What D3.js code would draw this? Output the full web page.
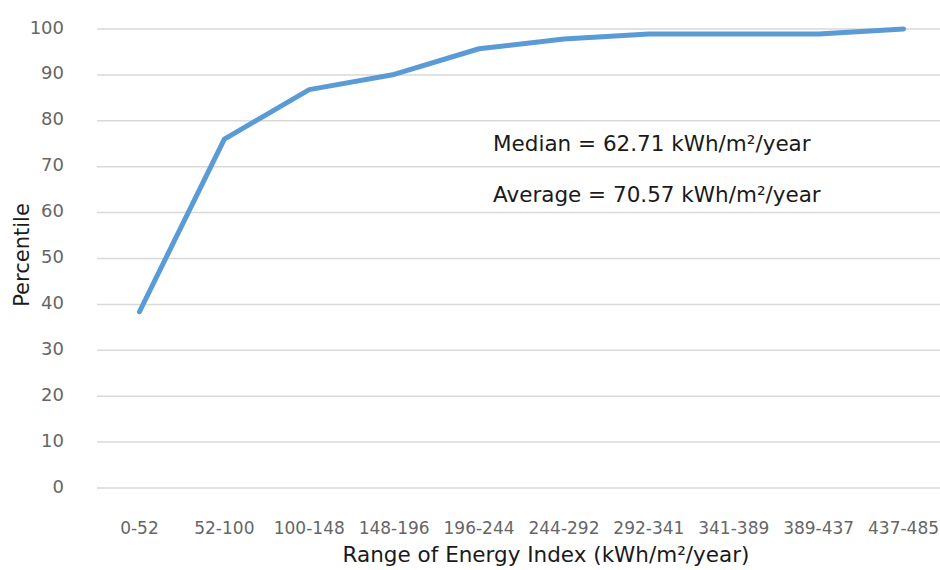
<!DOCTYPE html>
<html>
<head>
<meta charset="utf-8">
<script src="https://cdn.jsdelivr.net/npm/d3@7"></script>
<style>
  body { margin: 0; background: #fff; }
  text { font-family: "DejaVu Sans", "Liberation Sans", Arial, sans-serif; }
</style>
</head>
<body>
<svg id="chart" width="940" height="570"></svg>
<script>
// ranges on the x axis
var ranges = ["0-52", "52-100", "100-148", "148-196", "196-244",
              "244-292", "292-341", "341-389", "389-437", "437-485"];
// cumulative percentile per range
var percentile = [38.4, 76.0, 86.8, 90.1, 95.7, 97.8, 98.9, 98.9, 98.9, 100];
var yTicks = [0, 10, 20, 30, 40, 50, 60, 70, 80, 90, 100];
var notes = ["Median = 62.71 kWh/m\u00b2/year", "Average = 70.57 kWh/m\u00b2/year"];

var font = '"DejaVu Sans", "Liberation Sans", Arial, sans-serif';
var svg = d3.select('#chart');

var x = d3.scaleBand()
    .domain(ranges)
    .range([97, 946]);
var y = d3.scaleLinear()
    .domain([0, 100])
    .range([488, 29]);

// gridlines
svg.append('g')
    .selectAll('line')
    .data(yTicks)
    .enter()
    .append('line')
    .attr('x1', 97)
    .attr('x2', 940)
    .attr('y1', d => y(d))
    .attr('y2', d => y(d))
    .attr('stroke', '#d9d9d9')
    .attr('stroke-width', 1.5);

// y axis labels
var yAxis = d3.axisLeft(y)
    .tickValues(yTicks)
    .tickSize(0)
    .tickPadding(0);
var gy = svg.append('g')
    .attr('transform', 'translate(64,0)')
    .call(yAxis);
gy.select('.domain').remove();
gy.selectAll('text')
    .attr('font-size', 18)
    .attr('fill', '#666')
    .attr('dy', 4)
    .style('font-family', font);

// x axis labels
var xAxis = d3.axisBottom(x)
    .tickSize(0)
    .tickPadding(0);
var gx = svg.append('g')
    .attr('transform', 'translate(0,534)')
    .call(xAxis);
gx.select('.domain').remove();
gx.selectAll('text')
    .attr('font-size', 17)
    .attr('fill', '#666')
    .attr('dy', 0)
    .style('font-family', font);

// the line
var line = d3.line()
    .x((d, i) => x(ranges[i]) + x.bandwidth() / 2)
    .y(d => y(d));
svg.append('path')
    .datum(percentile)
    .attr('d', line)
    .attr('fill', 'none')
    .attr('stroke', '#5b9bd5')
    .attr('stroke-width', 5)
    .attr('stroke-linejoin', 'round')
    .attr('stroke-linecap', 'round');

// axis titles
svg.append('text')
    .attr('x', 546)
    .attr('y', 562)
    .attr('text-anchor', 'middle')
    .attr('font-size', 21.5)
    .attr('fill', '#1a1a1a')
    .text('Range of Energy Index (kWh/m\u00b2/year)');

svg.append('text')
    .attr('transform', 'translate(29,255) rotate(-90)')
    .attr('text-anchor', 'middle')
    .attr('font-size', 21)
    .attr('fill', '#1a1a1a')
    .text('Percentile');

// annotations
svg.append('g')
    .selectAll('text')
    .data(notes)
    .enter()
    .append('text')
    .attr('x', 493)
    .attr('y', (d, i) => 151 + i * 51)
    .attr('font-size', 21.5)
    .attr('fill', '#1a1a1a')
    .text(d => d);
</script>
</body>
</html>
